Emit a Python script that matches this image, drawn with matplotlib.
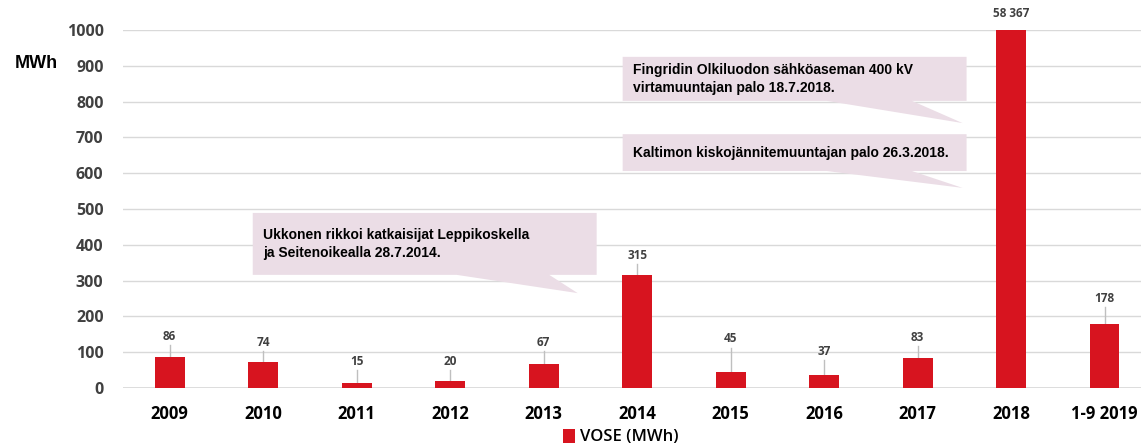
import matplotlib
matplotlib.use("Agg")
import matplotlib.pyplot as plt
from matplotlib.patches import Polygon, Patch

# data
categories = ['2009', '2010', '2011', '2012', '2013', '2014',
              '2015', '2016', '2017', '2018', '1-9 2019']
vose = [86, 74, 15, 20, 67, 315, 45, 37, 83, 58367, 178]
value_labels = ['86', '74', '15', '20', '67', '315', '45', '37', '83', '58 367', '178']

# where the value labels sit (data units), leader lines drawn down to the bar
label_y = [145, 128, 75, 75, 128, 369, 137, 103, 142, 1045, 251]

# callouts: (text, box x0, x1, y0, y1, tail base x0, x1, apex x, apex y)
callouts = [
    ("Ukkonen rikkoi katkaisijat Leppikoskella\nja Seitenoikealla 28.7.2014.",
     0.888, 4.567, 316, 489, 3.07, 4.06, 4.364, 265),
    ("Fingridin Olkiluodon sähköaseman 400 kV\nvirtamuuntajan palo 18.7.2018.",
     4.845, 8.524, 802, 925, 7.03, 7.94, 8.481, 740),
    ("Kaltimon kiskojännitemuuntajan palo 26.3.2018.",
     4.845, 8.524, 606, 709, 7.03, 7.94, 8.481, 559),
]

RED = '#d7141f'
GRID = '#d9d9d9'
GREY_TXT = '#404040'
BOX = '#ebdde6'

fig = plt.figure(figsize=(11.41, 4.48), dpi=100)
ax = fig.add_axes([123 / 1141, 60 / 448, 1 - 123 / 1141, 358 / 448])

x = list(range(len(categories)))
ax.bar(x, vose, width=0.32, color=RED, zorder=3)

ax.set_ylim(0, 1000)
ax.set_xlim(-0.5, 10.39)
ax.set_yticks(range(0, 1001, 100))
ax.grid(axis='y', color=GRID, linewidth=1, zorder=0)
for s in ax.spines.values():
    s.set_visible(False)
ax.axhline(0, color=GRID, linewidth=1.2, zorder=1)
ax.tick_params(length=0)
ax.tick_params(axis='y', pad=14, labelcolor=GREY_TXT)
ax.tick_params(axis='x', pad=12, labelcolor='black')
ax.set_xticks(x)
ax.set_xticklabels(categories)
for t in ax.get_yticklabels():
    t.set_fontfamily('Open Sans')
    t.set_fontweight('bold')
    t.set_fontsize(11.5)
for t in ax.get_xticklabels():
    t.set_fontfamily('Open Sans')
    t.set_fontweight('bold')
    t.set_fontsize(12)

# value labels with leader lines
for xi, v, lab, ly in zip(x, vose, value_labels, label_y):
    if v < 1000:
        ax.plot([xi, xi], [v, ly - 24], color='#bfbfbf', linewidth=1,
                zorder=2, clip_on=False)
    ax.text(xi, ly, lab, ha='center', va='center', fontsize=8.5,
            fontfamily='Open Sans', fontweight='bold', color=GREY_TXT,
            clip_on=False)

# callout boxes
for text, bx0, bx1, by0, by1, tx0, tx1, axx, ayy in callouts:
    pts = [(bx0, by0), (bx0, by1), (bx1, by1), (bx1, by0),
           (tx1, by0), (axx, ayy), (tx0, by0)]
    ax.add_patch(Polygon(pts, closed=True, facecolor=BOX, edgecolor='none',
                         zorder=4))
    ax.text(bx0 + 0.107, (by0 + by1) / 2, text, ha='left', va='center',
            fontsize=10, fontfamily='Liberation Sans', fontweight='bold',
            color='black', linespacing=1.3, zorder=5)

fig.text(36 / 1141, 1 - 64 / 448, 'MWh', ha='center', va='center',
         fontsize=13, fontfamily='Liberation Sans', fontweight='bold')

handle = Patch(facecolor=RED, edgecolor='none')
fig.legend([handle], ['VOSE (MWh)'], loc='center',
           bbox_to_anchor=(621 / 1141, 11 / 448), frameon=False,
           handlelength=0.7, handleheight=0.9, handletextpad=0.3,
           prop={'family': 'Open Sans', 'size': 12, 'weight': 'semibold'})

fig.savefig('out.png', dpi=100)
